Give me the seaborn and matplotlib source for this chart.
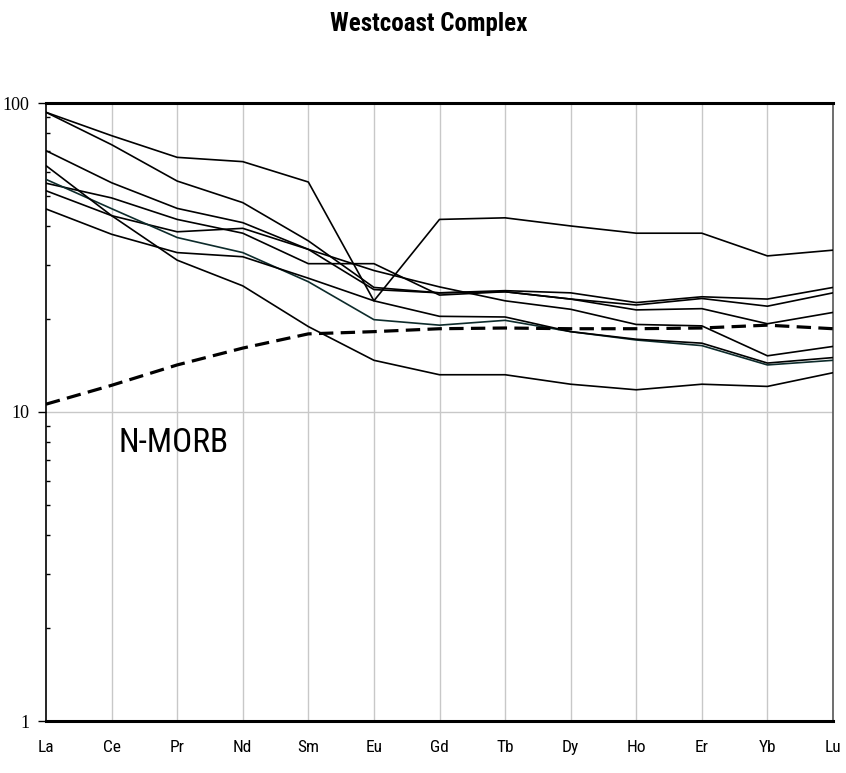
import numpy as np
import pandas as pd
import matplotlib
matplotlib.use("Agg")
import matplotlib.pyplot as plt
from matplotlib import font_manager
from matplotlib.ticker import LogLocator, NullFormatter, FixedLocator
import seaborn as sns

# Chondrite-normalised REE patterns
elements = ["La", "Ce", "Pr", "Nd", "Sm", "Eu", "Gd", "Tb", "Dy", "Ho", "Er", "Yb", "Lu"]

sample_a = [93.3, 78.4, 66.7, 64.6, 55.5, 22.9, 42.0, 42.5, 40.0, 37.9, 37.9, 32.0, 33.4]
sample_b = [93.3, 73.3, 55.9, 47.6, 35.8, 25.3, 24.3, 24.7, 24.3, 22.6, 23.6, 23.2, 25.3]
sample_c = [70.1, 55.2, 45.6, 41.0, 33.6, 28.7, 25.4, 22.9, 21.5, 19.2, 19.0, 15.2, 16.3]
sample_d = [55.0, 49.3, 42.0, 37.9, 30.2, 30.2, 23.9, 24.5, 23.2, 22.2, 23.3, 22.0, 24.3]
sample_e = [52.0, 43.2, 38.3, 39.3, 33.6, 24.9, 24.3, 24.5, 23.2, 21.4, 21.6, 19.3, 21.0]
sample_f = [56.6, 45.5, 36.7, 32.8, 26.4, 19.9, 19.1, 19.8, 18.2, 17.1, 16.4, 14.2, 14.7]
sample_g = [45.4, 37.6, 32.8, 31.8, 27.1, 22.9, 20.4, 20.3, 18.2, 17.2, 16.7, 14.4, 15.0]
sample_h = [62.7, 43.2, 31.0, 25.6, 18.9, 14.7, 13.2, 13.2, 12.3, 11.8, 12.3, 12.1, 13.4]

n_morb = [10.6, 12.2, 14.2, 16.1, 17.9, 18.2, 18.6, 18.7, 18.6, 18.6, 18.7, 19.1, 18.6]

samples = {"A": sample_a, "B": sample_b, "C": sample_c, "D": sample_d,
           "E": sample_e, "F": sample_f, "G": sample_g, "H": sample_h}
sample_colors = {"A": "black", "B": "black", "C": "black", "D": "black",
                 "E": "black", "F": "#0d2b2b", "G": "black", "H": "black"}


def pick_font(candidates):
    for name in candidates:
        try:
            font_manager.findfont(font_manager.FontProperties(family=name),
                                  fallback_to_default=False)
            return name
        except Exception:
            continue
    return "DejaVu Sans"


narrow = pick_font(["Liberation Sans Narrow", "Arial Narrow", "Roboto Condensed",
                    "Liberation Sans"])
serif = pick_font(["Liberation Serif", "DejaVu Serif"])

sns.set_style("white")
plt.rcParams["font.family"] = [narrow, "DejaVu Sans"]
plt.rcParams["text.color"] = "black"
plt.rcParams["xtick.color"] = "black"
plt.rcParams["ytick.color"] = "black"

pos = np.arange(len(elements))
long = pd.DataFrame(
    [(name, p, v) for name, vals in samples.items() for p, v in zip(pos, vals)],
    columns=["sample", "pos", "value"],
)
morb = pd.DataFrame({"pos": pos, "value": n_morb})

fig = plt.figure(figsize=(8.46, 7.73), dpi=100)
ax = fig.add_axes([46 / 846, 1 - 721 / 773, (833 - 46) / 846, (721 - 103) / 773])

ax.set_yscale("log")
ax.set_xlim(0, len(elements) - 1)
ax.set_ylim(1, 100)

# grid: one vertical line per element, horizontal line at 10
for p in pos[1:-1]:
    ax.axvline(p, color="#c8c8c8", lw=1.0, zorder=0)
ax.axhline(10, color="#c8c8c8", lw=1.0, zorder=0)

sns.lineplot(data=long, x="pos", y="value", hue="sample", units="sample",
             estimator=None, palette=sample_colors, legend=False,
             linewidth=1.2, ax=ax, zorder=3)

sns.lineplot(data=morb, x="pos", y="value", color="black", linewidth=2.3,
             ax=ax, zorder=4, dashes=False)
ax.lines[-1].set_dashes([4.5, 2.3])

ax.text(1.11, 7.42, "N-MORB", fontsize=24, family=[narrow, "DejaVu Sans"],
        ha="left", va="baseline", color="black")

ax.set_xticks(pos)
ax.set_xticklabels(elements, fontsize=12.5, color="black")
ax.tick_params(axis="x", length=0, pad=14)

ax.yaxis.set_major_locator(FixedLocator([1, 10, 100]))
ax.set_yticklabels(["1", "10", "100"], fontsize=13, family=[serif], color="black")
ax.yaxis.set_minor_locator(LogLocator(base=10, subs=np.arange(2, 10)))
ax.yaxis.set_minor_formatter(NullFormatter())
ax.tick_params(axis="y", which="major", direction="out", length=6, width=1,
               color="black", pad=6, left=True)
ax.tick_params(axis="y", which="minor", direction="in", length=3, width=1,
               color="black", left=True)

ax.set_xlabel("")
ax.set_ylabel("")

for side in ["top", "bottom"]:
    ax.spines[side].set_linewidth(2.2)
    ax.spines[side].set_color("black")
ax.spines["left"].set_linewidth(1.2)
ax.spines["left"].set_color("black")
ax.spines["right"].set_linewidth(1.2)
ax.spines["right"].set_color("#555555")

fig.text(428.5 / 846, 1 - 30.7 / 773, "Westcoast Complex", ha="center",
         va="baseline", fontsize=18, fontweight="bold", color="black",
         family=[narrow, "DejaVu Sans"])

fig.savefig("out.png", dpi=100, facecolor="white")
